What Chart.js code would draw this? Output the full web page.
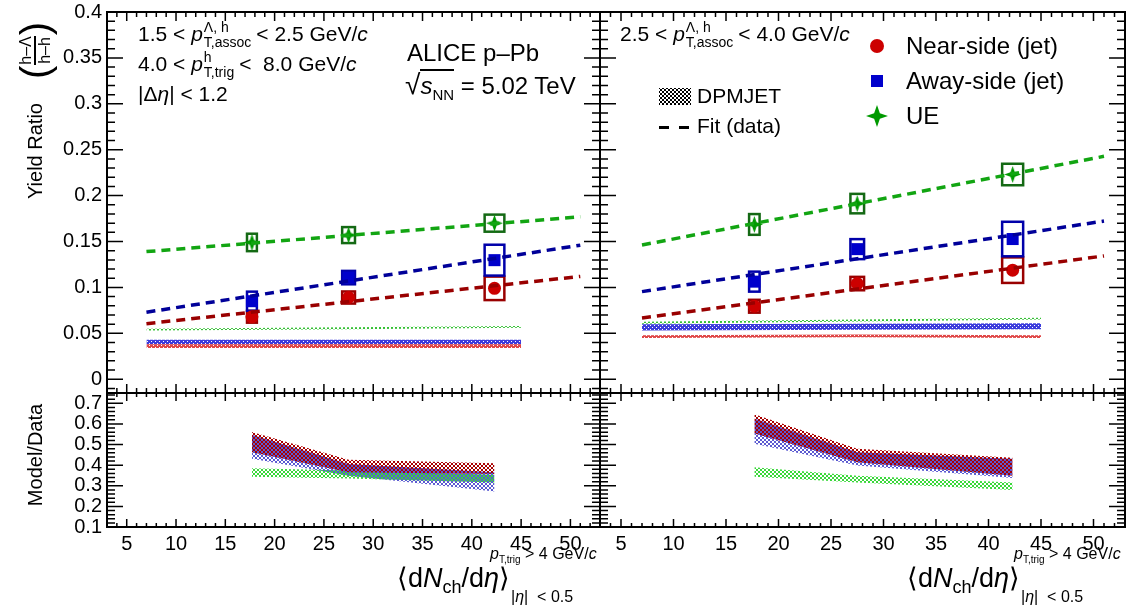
<!DOCTYPE html>
<html>
<head>
<meta charset="utf-8">
<script src="https://cdn.jsdelivr.net/npm/chart.js@4.4.1/dist/chart.umd.min.js"></script>
<style>
  html, body { margin: 0; background: #fff; }
  #wrap { position: relative; width: 1128px; height: 611px; overflow: hidden; font-family: "Liberation Sans", Arial, sans-serif; color: #000; }
  canvas { position: absolute; }
  .t { position: absolute; white-space: nowrap; line-height: 30px; font-size: 21px; }
  .ps { display: inline-flex; flex-direction: column; vertical-align: middle; font-size: 14px; line-height: 15px; margin: 0 5px 0 1px; }
  .rot { position: absolute; display: flex; align-items: center; justify-content: flex-start; transform: rotate(-90deg); white-space: nowrap; font-size: 20px; }
  .frac { display: inline-flex; flex-direction: column; align-items: center; font-size: 16px; line-height: 15px; margin: 0 1px; }
  .frac .bar { height: 1.5px; width: 100%; background: #000; margin: 1px 0; }
  .par { font-size: 40px; line-height: 1; }
  .lg { position: absolute; white-space: nowrap; font-size: 24px; line-height: 24px; }
  .mk { position: absolute; }
  .xt { position: absolute; white-space: nowrap; }
</style>
</head>
<body>
<div id="wrap">
  <canvas id="cTL" width="602" height="394" style="left:0;top:0"></canvas>
  <canvas id="cTR" width="529" height="394" style="left:599px;top:0"></canvas>
  <canvas id="cBL" width="602" height="219" style="left:0;top:392px"></canvas>
  <canvas id="cBR" width="529" height="219" style="left:599px;top:392px"></canvas>

  <!-- axis titles -->
  <div class="rot" style="left:-60px;top:79px;width:190px;height:50px">
    <span>Yield Ratio</span><span style="display:inline-block;width:24px"></span><span class="par">(</span><span class="frac"><span>h–Λ</span><span class="bar"></span><span>h–h</span></span><span class="par">)</span>
  </div>
  <div class="rot" style="left:-25px;top:440px;width:120px;height:30px;justify-content:center">Model/Data</div>

  <div class="xt" style="left:397px;top:562px;font-size:27px">⟨d<i>N</i><sub style="font-size:18px">ch</sub>/d<i>η</i>⟩</div>
  <div class="xt" style="left:490px;top:545px;font-size:16px"><i>p</i><sub style="font-size:10px">T,trig</sub> &gt; 4 GeV/<i>c</i></div>
  <div class="xt" style="left:511px;top:588px;font-size:16px">|<i>η</i>| &nbsp;&lt; 0.5</div>

  <div class="xt" style="left:907px;top:562px;font-size:27px">⟨d<i>N</i><sub style="font-size:18px">ch</sub>/d<i>η</i>⟩</div>
  <div class="xt" style="left:1014px;top:545px;font-size:16px"><i>p</i><sub style="font-size:10px">T,trig</sub> &gt; 4 GeV/<i>c</i></div>
  <div class="xt" style="left:1021px;top:588px;font-size:16px">|<i>η</i>| &nbsp;&lt; 0.5</div>

  <!-- left panel labels -->
  <div class="t" style="left:138px;top:19px">1.5 &lt; <i>p</i><span class="ps"><span>Λ, h</span><span>T,assoc</span></span>&lt; 2.5 GeV/<i>c</i></div>
  <div class="t" style="left:138px;top:49px">4.0 &lt; <i>p</i><span class="ps"><span>h</span><span>T,trig</span></span>&lt;&nbsp; 8.0 GeV/<i>c</i></div>
  <div class="t" style="left:138px;top:79px">|Δ<i>η</i>| &lt; 1.2</div>
  <div class="t" style="left:407px;top:38px;font-size:24px">ALICE p–Pb</div>
  <div class="t" style="left:405px;top:70px;font-size:24px"><span style="font-size:28px">√</span><span style="border-top:2px solid #000;padding-top:1px"><i>s</i><sub style="font-size:15px">NN</sub></span> = 5.02 TeV</div>

  <!-- right panel labels -->
  <div class="t" style="left:620px;top:19px">2.5 &lt; <i>p</i><span class="ps"><span>Λ, h</span><span>T,assoc</span></span>&lt; 4.0 GeV/<i>c</i></div>

  <div id="lgMesh" class="mk" style="left:659px;top:88px;width:32px;height:17px"></div>
  <div class="lg" style="left:697px;top:84px;font-size:21px">DPMJET</div>
  <div class="mk" style="left:659px;top:126px;width:10px;height:3px;background:#000"></div>
  <div class="mk" style="left:679px;top:126px;width:10px;height:3px;background:#000"></div>
  <div class="lg" style="left:697px;top:114px;font-size:21px">Fit (data)</div>

  <div class="mk" style="left:870px;top:39px;width:14px;height:14px;border-radius:50%;background:#cc0000"></div>
  <div class="lg" style="left:906px;top:34px">Near-side (jet)</div>
  <div class="mk" style="left:871px;top:75px;width:12px;height:12px;background:#0000cc"></div>
  <div class="lg" style="left:906px;top:69px">Away-side (jet)</div>
  <div id="lgStar" class="mk" style="left:866px;top:105px"></div>
  <div class="lg" style="left:906px;top:104px">UE</div>
</div>

<script>
// ---- values ----
const X_RANGE = [3, 53];
const X_TICKS = [5, 10, 15, 20, 25, 30, 35, 40, 45, 50];
const Y_TOP_RANGE = [-0.015, 0.4];
const Y_TOP_TICKS = [0, 0.05, 0.1, 0.15, 0.2, 0.25, 0.3, 0.35, 0.4];
const Y_BOT_RANGE = [0.1, 0.75];
const Y_BOT_TICKS = [0.1, 0.2, 0.3, 0.4, 0.5, 0.6, 0.7];

const MULT = [17.7, 27.5, 42.3];       // <dNch/deta> of the three classes
const MULT_SYS = [0.5, 0.65, 1.0];     // half width of the syst. boxes

// 1.5 < pT,assoc < 2.5 GeV/c
const NEAR_A = [0.068, 0.089, 0.099];
const NEAR_A_SYS = [0.0064, 0.0066, 0.0128];
const AWAY_A = [0.085, 0.1107, 0.1297];
const AWAY_A_SYS = [0.0104, 0.0073, 0.0168];
const UE_A = [0.149, 0.157, 0.170];
const UE_A_SYS = [0.0095, 0.0087, 0.0093];

// 2.5 < pT,assoc < 4.0 GeV/c
const NEAR_B = [0.0795, 0.1042, 0.1188];
const NEAR_B_SYS = [0.007, 0.0073, 0.0139];
const AWAY_B = [0.1063, 0.1417, 0.1527];
const AWAY_B_SYS = [0.0109, 0.0109, 0.0188];
const UE_B = [0.1686, 0.1913, 0.223];
const UE_B_SYS = [0.0113, 0.0106, 0.0117];

// linear fits (data)
const FIT_X = [7, 51];
const FIT_NEAR_A = [0.0605, 0.112];
const FIT_AWAY_A = [0.073, 0.146];
const FIT_UE_A = [0.139, 0.1769];
const FIT_NEAR_B = [0.0667, 0.1343];
const FIT_AWAY_B = [0.0954, 0.1723];
const FIT_UE_B = [0.1462, 0.2428];

// DPMJET bands (lower / upper edge)
const DPM_X = [7, 27.5, 45];
const DPM_NEAR_A_LO = [0.034, 0.034, 0.034];
const DPM_NEAR_A_HI = [0.038, 0.038, 0.038];
const DPM_AWAY_A_LO = [0.038, 0.038, 0.038];
const DPM_AWAY_A_HI = [0.043, 0.043, 0.043];
const DPM_UE_A_LO = [0.053, 0.0545, 0.056];
const DPM_UE_A_HI = [0.055, 0.0565, 0.058];
const DPM_NEAR_B_LO = [0.045, 0.0458, 0.045];
const DPM_NEAR_B_HI = [0.048, 0.0488, 0.048];
const DPM_AWAY_B_LO = [0.053, 0.054, 0.0545];
const DPM_AWAY_B_HI = [0.060, 0.0605, 0.061];
const DPM_UE_B_LO = [0.0605, 0.063, 0.065];
const DPM_UE_B_HI = [0.0625, 0.065, 0.067];

// Model/Data bands
const RAT_NEAR_A_LO = [0.462, 0.365, 0.357];
const RAT_NEAR_A_HI = [0.561, 0.426, 0.409];
const RAT_AWAY_A_LO = [0.431, 0.349, 0.272];
const RAT_AWAY_A_HI = [0.547, 0.406, 0.365];
const RAT_UE_A_LO = [0.344, 0.335, 0.316];
const RAT_UE_A_HI = [0.385, 0.374, 0.354];
const RAT_NEAR_B_LO = [0.553, 0.414, 0.349];
const RAT_NEAR_B_HI = [0.647, 0.480, 0.436];
const RAT_AWAY_B_LO = [0.504, 0.398, 0.338];
const RAT_AWAY_B_HI = [0.626, 0.463, 0.431];
const RAT_UE_B_LO = [0.344, 0.316, 0.279];
const RAT_UE_B_HI = [0.390, 0.349, 0.316];

const COL = {
  near: "#cc0000", nearBox: "#990000", nearFit: "#990000",
  away: "#0000cc", awayBox: "#0000aa", awayFit: "#000099",
  ue: "#009900", ueBox: "#146914", ueFit: "#12a512",
};

Chart.defaults.font.family = '"Liberation Sans", Arial, sans-serif';
Chart.defaults.color = "#000";

// cross-hatch fill; shift=2 gives the complementary cells so overlaps interleave
function mesh(color, shift, dense) {
  const c = document.createElement("canvas");
  c.width = c.height = 4;
  const g = c.getContext("2d");
  g.fillStyle = color;
  if (dense) { g.fillRect(0, 0, 4, 4); g.clearRect(1 + shift % 4, 1, 1, 1); g.clearRect((3 + shift) % 4, 3, 1, 1); return c; }
  for (let i = 0; i < 4; i++) {
    g.fillRect((i + shift) % 4, i, 1, 1);
    g.fillRect((3 - i + shift) % 4, i, 1, 1);
  }
  return c;
}
const pat = (color, shift, dense) =>
  document.createElement("canvas").getContext("2d").createPattern(mesh(color, shift, dense), "repeat");

function starImg(size, color) {
  const c = document.createElement("canvas");
  c.width = c.height = size;
  const g = c.getContext("2d"), h = size / 2, w = size * 0.13;
  g.fillStyle = color;
  g.beginPath();
  g.moveTo(h, 0); g.lineTo(h + w, h - w); g.lineTo(size, h); g.lineTo(h + w, h + w);
  g.lineTo(h, size); g.lineTo(h - w, h + w); g.lineTo(0, h); g.lineTo(h - w, h - w);
  g.closePath(); g.fill();
  return c;
}

const pts = (xs, ys) => xs.map((x, i) => ({ x, y: ys[i] }));
const clear = "rgba(0,0,0,0)";

function band(xs, lo, hi, fillStyle) {
  return [
    { type: "line", data: pts(xs, lo), borderColor: clear, borderWidth: 0, pointRadius: 0, fill: false },
    { type: "line", data: pts(xs, hi), borderColor: clear, borderWidth: 0, pointRadius: 0, fill: "-1", backgroundColor: fillStyle },
  ];
}
const fit = (ys, color) => ({
  type: "line", data: pts(FIT_X, ys), borderColor: color, borderWidth: 3.5, borderDash: [9, 6],
  pointRadius: 0, fill: false,
});
const marker = (ys, style, radius, color) => ({
  type: "scatter", data: pts(MULT, ys), pointStyle: style, pointRadius: radius,
  backgroundColor: color, borderWidth: 0,
});

// frame with inward ticks on all four sides (ROOT look)
const frameTicks = (o) => ({
  id: "frameTicks",
  afterDraw(chart) {
    const { ctx, chartArea: a, scales: { x, y } } = chart;
    ctx.save();
    ctx.strokeStyle = "#000";
    ctx.lineWidth = 1.5;
    ctx.beginPath();
    const xr = Math.round(o.xMajor / o.xMinor);
    for (let k = Math.ceil(x.min / o.xMinor - 1e-9); k <= Math.floor(x.max / o.xMinor + 1e-9); k++) {
      const p = x.getPixelForValue(k * o.xMinor), L = k % xr === 0 ? o.xLen[0] : o.xLen[1];
      ctx.moveTo(p, a.bottom); ctx.lineTo(p, a.bottom - L);
      ctx.moveTo(p, a.top); ctx.lineTo(p, a.top + L);
    }
    const yr = Math.round(o.yMajor / o.yMinor);
    for (let k = Math.ceil(y.min / o.yMinor - 1e-9); k <= Math.floor(y.max / o.yMinor + 1e-9); k++) {
      const p = y.getPixelForValue(k * o.yMinor), L = k % yr === 0 ? o.yLen[0] : o.yLen[1];
      ctx.moveTo(a.left, p); ctx.lineTo(a.left + L, p);
      ctx.moveTo(a.right, p); ctx.lineTo(a.right - L, p);
    }
    ctx.stroke();
    ctx.lineWidth = 2;
    ctx.strokeRect(a.left, a.top, a.right - a.left, a.bottom - a.top);
    ctx.restore();
  },
});

// systematic-uncertainty boxes
const sysBoxes = (list) => ({
  id: "sysBoxes",
  beforeDatasetsDraw(chart) {
    const { ctx, scales: { x, y } } = chart;
    ctx.save();
    ctx.lineWidth = 2.5;
    list.forEach((b) => {
      ctx.strokeStyle = b.color;
      b.y.forEach((v, i) => {
        const x0 = x.getPixelForValue(MULT[i] - MULT_SYS[i]), x1 = x.getPixelForValue(MULT[i] + MULT_SYS[i]);
        const y0 = y.getPixelForValue(v + b.err[i]), y1 = y.getPixelForValue(v - b.err[i]);
        ctx.strokeRect(x0, y0, x1 - x0, y1 - y0);
      });
    });
    ctx.restore();
  },
});

const fmt = (v) => String(+v.toFixed(2));
const noPad = (s) => { s.paddingTop = s.paddingBottom = s.paddingLeft = s.paddingRight = 0; };

function makeChart(id, cfg) {
  const yTicks = cfg.yTicks;
  return new Chart(document.getElementById(id), {
    type: "scatter",
    data: { datasets: cfg.datasets },
    options: {
      responsive: false,
      animation: false,
      events: [],
      layout: { padding: cfg.padding, autoPadding: false },
      plugins: { legend: { display: false }, tooltip: { enabled: false } },
      scales: {
        x: {
          type: "linear", min: X_RANGE[0], max: X_RANGE[1], display: cfg.showX,
          grid: { display: false, drawTicks: false }, border: { display: false },
          afterBuildTicks: (s) => { s.ticks = X_TICKS.map((v) => ({ value: v })); },
          afterFit: (s) => { noPad(s); if (cfg.showX) s.height = cfg.xHeight; },
          ticks: { font: { size: 20 }, padding: 5, maxRotation: 0, autoSkip: false, callback: (v) => fmt(v) },
        },
        y: {
          type: "linear", min: cfg.yRange[0], max: cfg.yRange[1], display: cfg.showY,
          grid: { display: false, drawTicks: false }, border: { display: false },
          afterBuildTicks: (s) => { s.ticks = yTicks.map((v) => ({ value: v })); },
          afterFit: (s) => { noPad(s); if (cfg.showY) s.width = 107; },
          ticks: { font: { size: 20 }, padding: 5, autoSkip: false, callback: (v) => fmt(v) },
        },
      },
    },
    plugins: [sysBoxes(cfg.boxes || []), frameTicks(cfg.ticks)],
  });
}

const star = starImg(17, COL.ue);
document.getElementById("lgStar").appendChild(starImg(22, COL.ue));
document.getElementById("lgMesh").style.backgroundImage = "url(" + mesh("#000", 0, false).toDataURL() + ")";

const topTicks = { xMajor: 5, xMinor: 1, yMajor: 0.05, yMinor: 0.01, xLen: [9, 5], yLen: [16, 8] };
const botTicks = { xMajor: 5, xMinor: 1, yMajor: 0.1, yMinor: 0.02, xLen: [8, 4], yLen: [16, 8] };

function topSets(dpm, fits, data) {
  return [
    ...band(DPM_X, dpm[0][0], dpm[0][1], pat("#e04848", 0, true)),
    ...band(DPM_X, dpm[1][0], dpm[1][1], pat("#3c3cdc", 2, true)),
    ...band(DPM_X, dpm[2][0], dpm[2][1], pat("#33c033", 0, false)),
    fit(fits[0], COL.nearFit), fit(fits[1], COL.awayFit), fit(fits[2], COL.ueFit),
    marker(data[0], "circle", 6.5, COL.near),
    marker(data[1], "rect", 8.5, COL.away),
    marker(data[2], star, 8, COL.ue),
  ];
}

makeChart("cTL", {
  padding: { left: 0, top: 12, right: 2, bottom: 1 }, showX: false, showY: true,
  yRange: Y_TOP_RANGE, yTicks: Y_TOP_TICKS, ticks: topTicks,
  datasets: topSets(
    [[DPM_NEAR_A_LO, DPM_NEAR_A_HI], [DPM_AWAY_A_LO, DPM_AWAY_A_HI], [DPM_UE_A_LO, DPM_UE_A_HI]],
    [FIT_NEAR_A, FIT_AWAY_A, FIT_UE_A], [NEAR_A, AWAY_A, UE_A]),
  boxes: [
    { y: NEAR_A, err: NEAR_A_SYS, color: COL.nearBox },
    { y: AWAY_A, err: AWAY_A_SYS, color: COL.awayBox },
    { y: UE_A, err: UE_A_SYS, color: COL.ueBox },
  ],
});

makeChart("cTR", {
  padding: { left: 1, top: 12, right: 3, bottom: 1 }, showX: false, showY: false,
  yRange: Y_TOP_RANGE, yTicks: Y_TOP_TICKS, ticks: topTicks,
  datasets: topSets(
    [[DPM_NEAR_B_LO, DPM_NEAR_B_HI], [DPM_AWAY_B_LO, DPM_AWAY_B_HI], [DPM_UE_B_LO, DPM_UE_B_HI]],
    [FIT_NEAR_B, FIT_AWAY_B, FIT_UE_B], [NEAR_B, AWAY_B, UE_B]),
  boxes: [
    { y: NEAR_B, err: NEAR_B_SYS, color: COL.nearBox },
    { y: AWAY_B, err: AWAY_B_SYS, color: COL.awayBox },
    { y: UE_B, err: UE_B_SYS, color: COL.ueBox },
  ],
});

function ratioSets(r) {
  return [
    ...band(MULT, r[1][0], r[1][1], pat("#5a5ad2", 2, false)),
    ...band(MULT, r[0][0], r[0][1], pat("#a80000", 0, false)),
    ...band(MULT, r[2][0], r[2][1], pat("#3ad83a", 0, false)),
  ];
}

makeChart("cBL", {
  padding: { left: 0, top: 1, right: 2, bottom: 0 }, showX: true, showY: true, xHeight: 84,
  yRange: Y_BOT_RANGE, yTicks: Y_BOT_TICKS, ticks: botTicks,
  datasets: ratioSets([[RAT_NEAR_A_LO, RAT_NEAR_A_HI], [RAT_AWAY_A_LO, RAT_AWAY_A_HI], [RAT_UE_A_LO, RAT_UE_A_HI]]),
});

makeChart("cBR", {
  padding: { left: 1, top: 1, right: 3, bottom: 0 }, showX: true, showY: false, xHeight: 84,
  yRange: Y_BOT_RANGE, yTicks: Y_BOT_TICKS, ticks: botTicks,
  datasets: ratioSets([[RAT_NEAR_B_LO, RAT_NEAR_B_HI], [RAT_AWAY_B_LO, RAT_AWAY_B_HI], [RAT_UE_B_LO, RAT_UE_B_HI]]),
});
</script>
</body>
</html>
